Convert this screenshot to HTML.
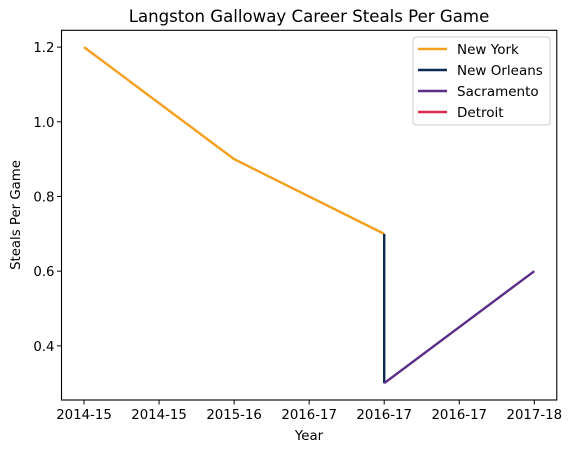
<!DOCTYPE html>
<html><head><meta charset="utf-8"><style>
body{margin:0;background:#fff;}
svg text{font-family:"DejaVu Sans","Liberation Sans",sans-serif;fill:#000;}
</style></head><body>
<svg id="chart" width="573" height="453" xmlns="http://www.w3.org/2000/svg">
<rect width="573" height="453" fill="#fff"/>
<text x="309" y="22" font-size="16.6" text-anchor="middle">Langston Galloway Career Steals Per Game</text>
<g id="plot"></g>
<text x="309" y="440" font-size="13.3" text-anchor="middle">Year</text>
<text transform="translate(20,215) rotate(-90)" font-size="13.3" text-anchor="middle">Steals Per Game</text>
<g id="legend"></g>
</svg>
<script>
const xTickVals=[0,0.5,1,1.5,2,2.5,3];
const xTickLabels=["2014-15","2014-15","2015-16","2016-17","2016-17","2016-17","2017-18"];
const yTickVals=[0.4,0.6,0.8,1.0,1.2];
const teams=["New York","New Orleans","Sacramento","Detroit"];
const colors=["#f59f1b","#0c2a50","#5a2d86","#e0284e"];
const nyX=[0,1,2], nyY=[1.2,0.9,0.7];
const noX=[2,2], noY=[0.7,0.3];
const sacX=[2,3], sacY=[0.3,0.6];
const detX=[], detY=[];
const L=61.5,R=556.8,T=30.3,B=400;
const xmin=-0.15,xmax=3.15,ymin=0.255,ymax=1.245;
const sx=v=>L+(v-xmin)/(xmax-xmin)*(R-L);
const sy=v=>B-(v-ymin)/(ymax-ymin)*(B-T);
const NS="http://www.w3.org/2000/svg";
const plot=document.getElementById('plot');
function mk(tag,attrs,parent){const e=document.createElementNS(NS,tag);for(const k in attrs)e.setAttribute(k,attrs[k]);parent.appendChild(e);return e;}
const series=[[nyX,nyY],[noX,noY],[sacX,sacY],[detX,detY]];
series.forEach((s,i)=>{
  if(!s[0].length)return;
  const p=mk('polyline',{points:s[0].map((x,j)=>sx(x)+','+sy(s[1][j])).join(' '),fill:'none',stroke:colors[i],'stroke-width':2.4},plot);
  
  
});
const frame=mk('rect',{x:L,y:T,width:R-L,height:B-T,fill:'none',stroke:'#000','stroke-width':1.1},plot);


xTickVals.forEach((v,i)=>{
  const x=sx(v);
  mk('line',{x1:x,x2:x,y1:B,y2:B+4.5,stroke:'#000'},plot);
  const t=mk('text',{x:x,y:B+19,'font-size':13.3,'text-anchor':'middle'},plot);
  t.textContent=xTickLabels[i];
  
  
});
yTickVals.forEach(v=>{
  const y=sy(v);
  mk('line',{x1:L-4.5,x2:L,y1:y,y2:y,stroke:'#000'},plot);
  const t=mk('text',{x:L-7,y:y+5,'font-size':13.3,'text-anchor':'end'},plot);
  t.textContent=v.toFixed(1);
  
  
});
const lg=document.getElementById('legend');
mk('rect',{x:413,y:37,width:137,height:88,rx:3,fill:'#fff',stroke:'#ccc'},lg);
teams.forEach((n,i)=>{
  const y=49+i*21;
  const g=mk('g',{},lg);
  
  
  mk('line',{x1:418,x2:447,y1:y,y2:y,stroke:colors[i],'stroke-width':2.4},g);
  const t=mk('text',{x:457,y:y+5,'font-size':13.5},g);
  t.textContent=n;
});
</script>
</body></html>
